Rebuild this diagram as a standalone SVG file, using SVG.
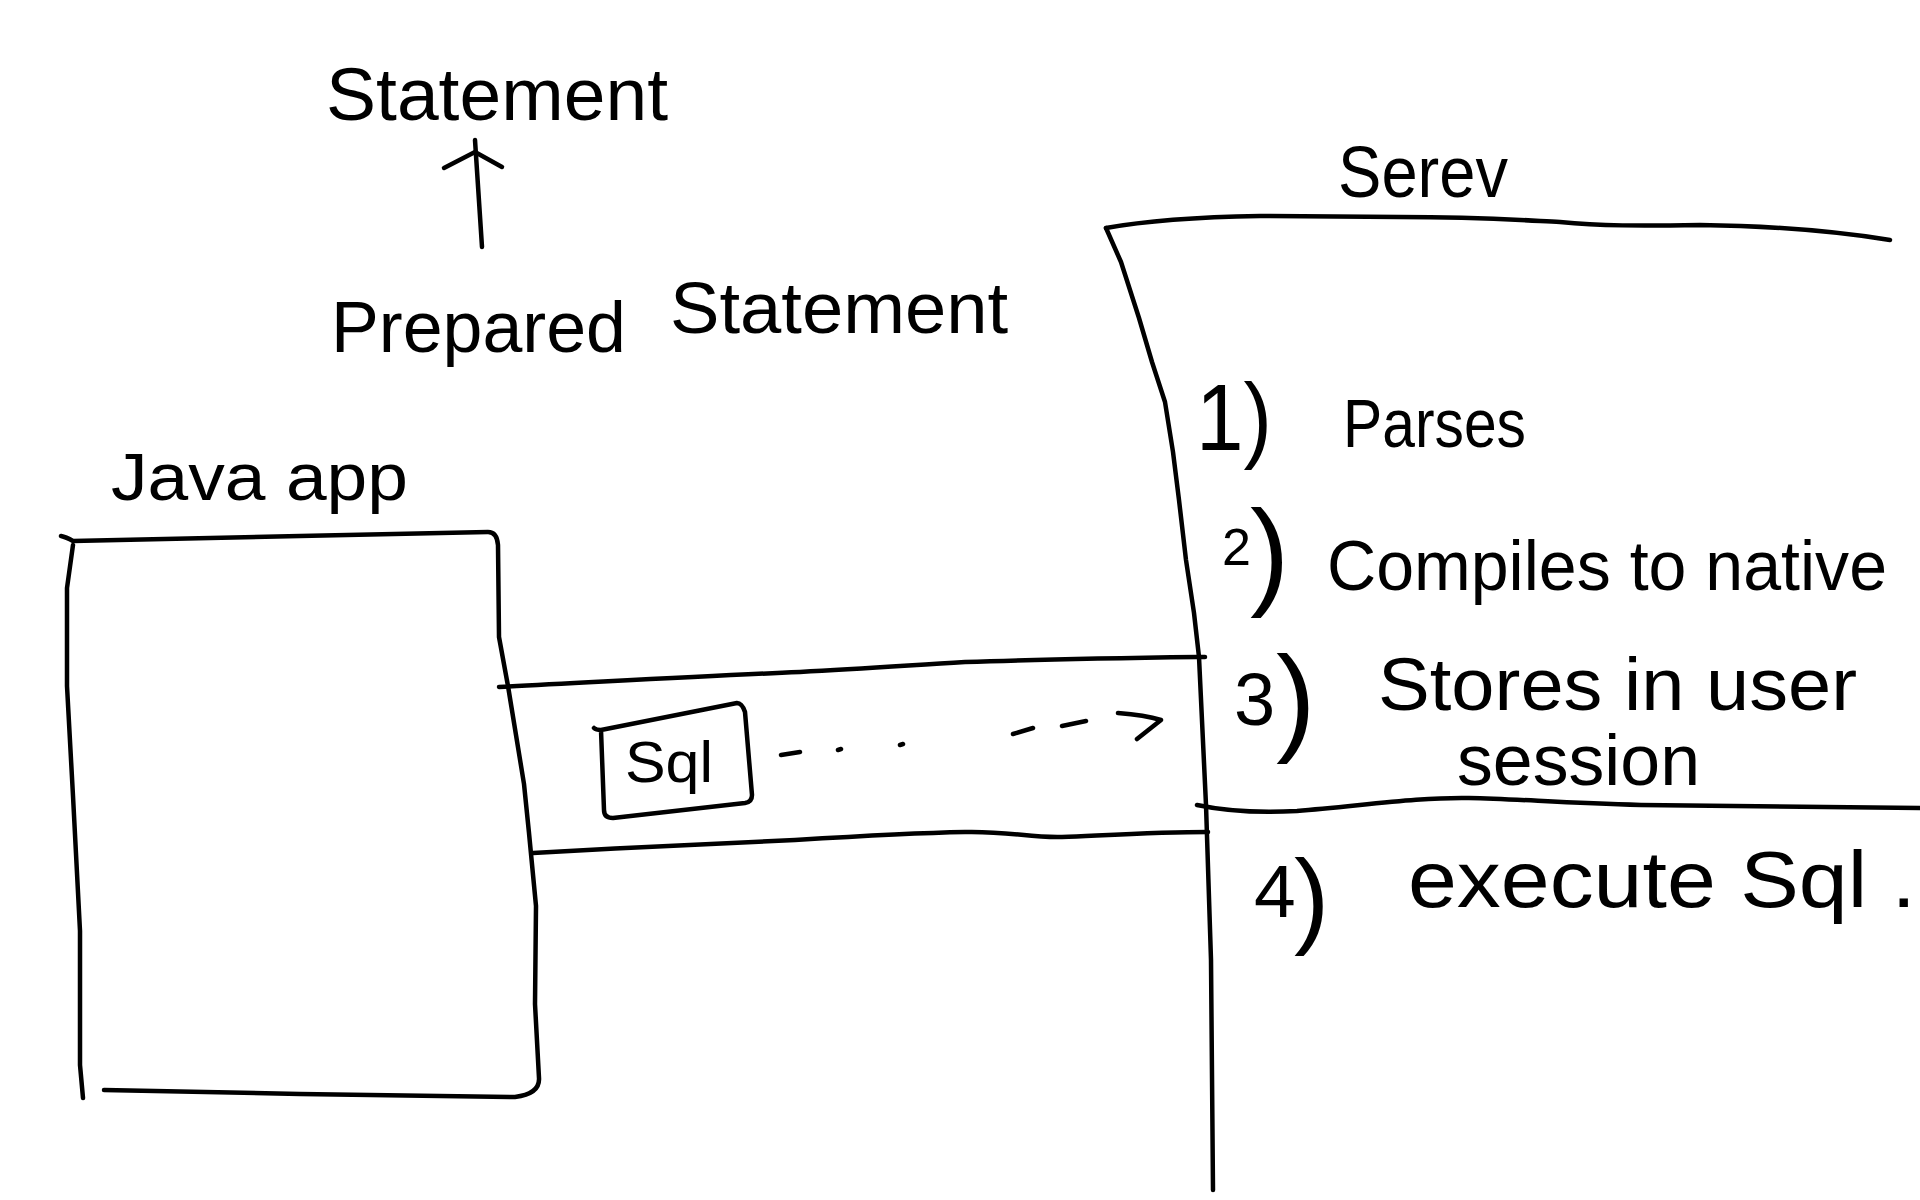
<svg xmlns="http://www.w3.org/2000/svg" width="1920" height="1200" viewBox="0 0 1920 1200">
<style>
.ln{fill:none;stroke:#000;stroke-width:4.5;stroke-linecap:round;stroke-linejoin:round}
.t{font-family:"Liberation Sans",Arial,sans-serif;fill:#000}
</style>
<rect width="1920" height="1200" fill="#fff"/>

<g id="statement">
<text class="t" x="326" y="120" font-size="74" textLength="342" lengthAdjust="spacingAndGlyphs">Statement</text>
</g>

<g id="prepared-statement">
<text class="t" font-size="72"><tspan x="331" y="352" textLength="295" lengthAdjust="spacingAndGlyphs">Prepared</tspan><tspan x="670" y="333" textLength="338" lengthAdjust="spacingAndGlyphs">Statement</tspan></text>
</g>

<g id="java-app">
<text class="t" x="111" y="500" font-size="66" textLength="297" lengthAdjust="spacingAndGlyphs">Java app</text>
<path class="ln" d="M61,536 Q66,537 73,541 L300,536 L488,532 Q497,532 498,545 L499,637 L508,686 L524,784 L529,833 L536,906 L535,1004 L539,1078 Q540,1094 515,1097 L300,1094 L104,1090"/>
<path class="ln" d="M73,545 L67,588 L67,686 L73,796 L80,931 L80,1065 L83,1098"/>
</g>

<g id="pipe">
<path class="ln" d="M499,687 C600,682 700,676 800,672 C860,669 900,666 965,662 C1050,659 1130,658 1205,657"/>
<path class="ln" d="M533,853 C620,848 700,844 795,840 C860,836 910,833 965,832 C1010,831 1030,838 1062,837 C1110,835 1160,832 1208,832"/>
</g>

<g id="sql">
<path class="ln" d="M594,728 Q596,730 601,730 L737,703 Q742,703 745,712 L752,795 Q752,802 745,803 L613,818 Q604,818 604,810 L601,730"/>
<text class="t" x="625" y="782" font-size="58" textLength="88" lengthAdjust="spacingAndGlyphs">Sql</text>
</g>

<g id="server">
<text class="t" x="1338" y="197" font-size="72" textLength="170" lengthAdjust="spacingAndGlyphs">Serev</text>
<path class="ln" d="M1106,228 C1150,220 1200,217 1260,216 L1400,217 C1480,217 1520,220 1560,222 C1600,226 1640,226 1700,225 C1780,226 1840,232 1890,240"/>
<path class="ln" d="M1106,228 L1121,262 L1139,318 L1152,362 L1165,402 L1173,452 L1179,500 L1186,560 L1194,613 L1199,657 L1206,805 L1211,960 L1213,1190"/>
<path class="ln" d="M1197,805 C1230,812 1260,813 1297,811 C1360,806 1420,797 1469,798 C1520,799 1560,803 1641,805 L1920,808"/>
</g>

<g id="step1">
<text class="t" x="1196" y="450" font-size="95" textLength="76" lengthAdjust="spacingAndGlyphs">1)</text>
<text class="t" x="1343" y="447" font-size="68" textLength="183" lengthAdjust="spacingAndGlyphs">Parses</text>
</g>

<g id="step2">
<text class="t"><tspan x="1222" y="565" font-size="52">2</tspan><tspan x="1250" y="593" font-size="118">)</tspan></text>
<text class="t" x="1327" y="590" font-size="70" textLength="560" lengthAdjust="spacingAndGlyphs">Compiles to native</text>
</g>

<g id="step3">
<text class="t"><tspan x="1234" y="725" font-size="74">3</tspan><tspan x="1276" y="739" font-size="119">)</tspan></text>
<text class="t" x="1378" y="710" font-size="74" textLength="479" lengthAdjust="spacingAndGlyphs">Stores in user</text>
<text class="t" x="1457" y="785" font-size="72" textLength="243" lengthAdjust="spacingAndGlyphs">session</text>
</g>

<g id="step4">
<text class="t"><tspan x="1254" y="917" font-size="75">4</tspan><tspan x="1294" y="934" font-size="106">)</tspan></text>
<text class="t" x="1408" y="907" font-size="80" textLength="508" lengthAdjust="spacingAndGlyphs">execute Sql .</text>
</g>

<g id="connectors">
<path class="ln" d="M482,247 L475,140"/>
<path class="ln" d="M444,168 L475,152 L502,167"/>
<path class="ln" d="M781,755 L800,752 M838,750 L841,749 M900,745 L903,744 M1013,734 L1033,728 M1062,726 L1086,721 M1118,713 Q1145,715 1161,720 L1137,739"/>
</g>
</svg>
